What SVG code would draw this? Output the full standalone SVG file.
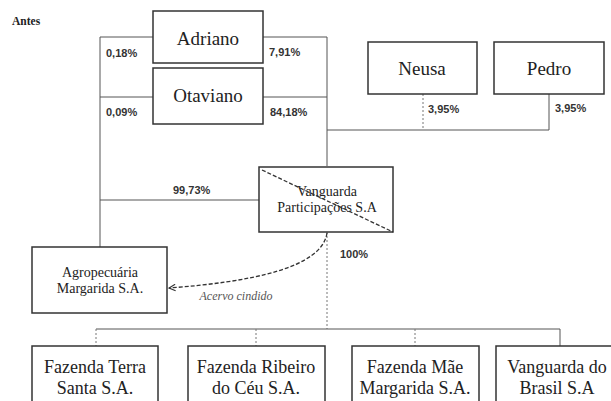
<svg xmlns="http://www.w3.org/2000/svg" width="611" height="401" viewBox="0 0 611 401">
<style>
.box{fill:#fff;stroke:#333;stroke-width:1.5}
.ln{fill:none;stroke:#555;stroke-width:1}
.dot{fill:none;stroke:#777;stroke-width:1;stroke-dasharray:2,2}
.dash{fill:none;stroke:#333;stroke-width:1.3;stroke-dasharray:4,2}
.nm{font-family:"Liberation Serif","Times New Roman",serif;fill:#222;text-anchor:middle}
.big{font-size:19px}
.mid{font-size:18px}
.sm{font-size:14px}
.pc{font-family:"Liberation Sans",Arial,sans-serif;font-weight:bold;font-size:11px;fill:#333}
.ttl{font-family:"Liberation Serif","Times New Roman",serif;font-weight:bold;font-size:11.5px;fill:#222}
.it{font-family:"Liberation Serif","Times New Roman",serif;font-style:italic;font-size:12px;fill:#555;text-anchor:middle}
</style>
<defs>
<marker id="arr" viewBox="0 0 10 10" markerWidth="8" markerHeight="8" refX="9" refY="5" orient="auto" markerUnits="userSpaceOnUse">
<path d="M1,1 L9,5 L1,9" fill="none" stroke="#333" stroke-width="1.5"/>
</marker>
</defs>
<text class="ttl" x="12" y="25">Antes</text>
<g id="connectors">
<path class="ln" d="M153,37 H100 V247"/>
<path class="ln" d="M263,37 H327 V166"/>
<path class="ln" d="M153,97 H100"/>
<path class="ln" d="M263,97 H327"/>
<path class="ln" d="M100,200 H259"/>
<path class="ln" d="M327,130 H549 V94"/>
<path class="dot" d="M423,94 V130"/>
<path class="dot" d="M327,232 V329"/>
<path class="ln" d="M96,329 H560"/>
<path class="dot" d="M96,329 V346"/>
<path class="dot" d="M256,329 V346"/>
<path class="dot" d="M415,329 V346"/>
<path class="ln" d="M560,329 V346"/>
<path class="dash" d="M327,233 C322,268 250,282 169,288" marker-end="url(#arr)"/>
<text class="it" x="236" y="300">Acervo cindido</text>
<text class="pc" x="106" y="57">0,18%</text>
<text class="pc" x="269" y="56">7,91%</text>
<text class="pc" x="106" y="116">0,09%</text>
<text class="pc" x="270" y="116">84,18%</text>
<text class="pc" x="173" y="194">99,73%</text>
<text class="pc" x="340" y="258">100%</text>
<text class="pc" x="428" y="113">3,95%</text>
<text class="pc" x="555" y="112">3,95%</text>
</g>
<g id="adriano"><rect class="box" x="153" y="11" width="110" height="52"/><text class="nm big" x="208" y="45">Adriano</text></g>
<g id="otaviano"><rect class="box" x="153" y="68" width="110" height="56"/><text class="nm big" x="208" y="102">Otaviano</text></g>
<g id="neusa"><rect class="box" x="368" y="42" width="109" height="52"/><text class="nm big" x="422" y="75">Neusa</text></g>
<g id="pedro"><rect class="box" x="494" y="42" width="110" height="52"/><text class="nm big" x="549" y="75">Pedro</text></g>
<g id="vanguarda-part"><rect class="box" x="259" y="167" width="134" height="65"/><text class="nm sm" x="327" y="196">Vanguarda</text><text class="nm sm" x="327" y="212">Participações S.A</text><path class="dash" d="M262,170 L393,232"/></g>
<g id="agropecuaria"><rect class="box" x="32" y="247" width="135" height="66"/><text class="nm sm" x="100" y="277">Agropecuária</text><text class="nm sm" x="100" y="293">Margarida S.A.</text></g>
<g id="terra-santa"><rect class="box" x="32" y="346" width="126" height="70"/><text class="nm mid" x="95" y="373">Fazenda Terra</text><text class="nm mid" x="95" y="394">Santa S.A.</text></g>
<g id="ribeiro"><rect class="box" x="188" y="346" width="137" height="70"/><text class="nm mid" x="256" y="373">Fazenda Ribeiro</text><text class="nm mid" x="256" y="394">do Céu S.A.</text></g>
<g id="mae"><rect class="box" x="352" y="346" width="127" height="70"/><text class="nm mid" x="415" y="373">Fazenda Mãe</text><text class="nm mid" x="415" y="394">Margarida S.A.</text></g>
<g id="vanguarda-brasil"><rect class="box" x="496" y="346" width="128" height="70"/><text class="nm mid" x="557" y="373">Vanguarda do</text><text class="nm mid" x="557" y="394">Brasil S.A</text></g>
</svg>
